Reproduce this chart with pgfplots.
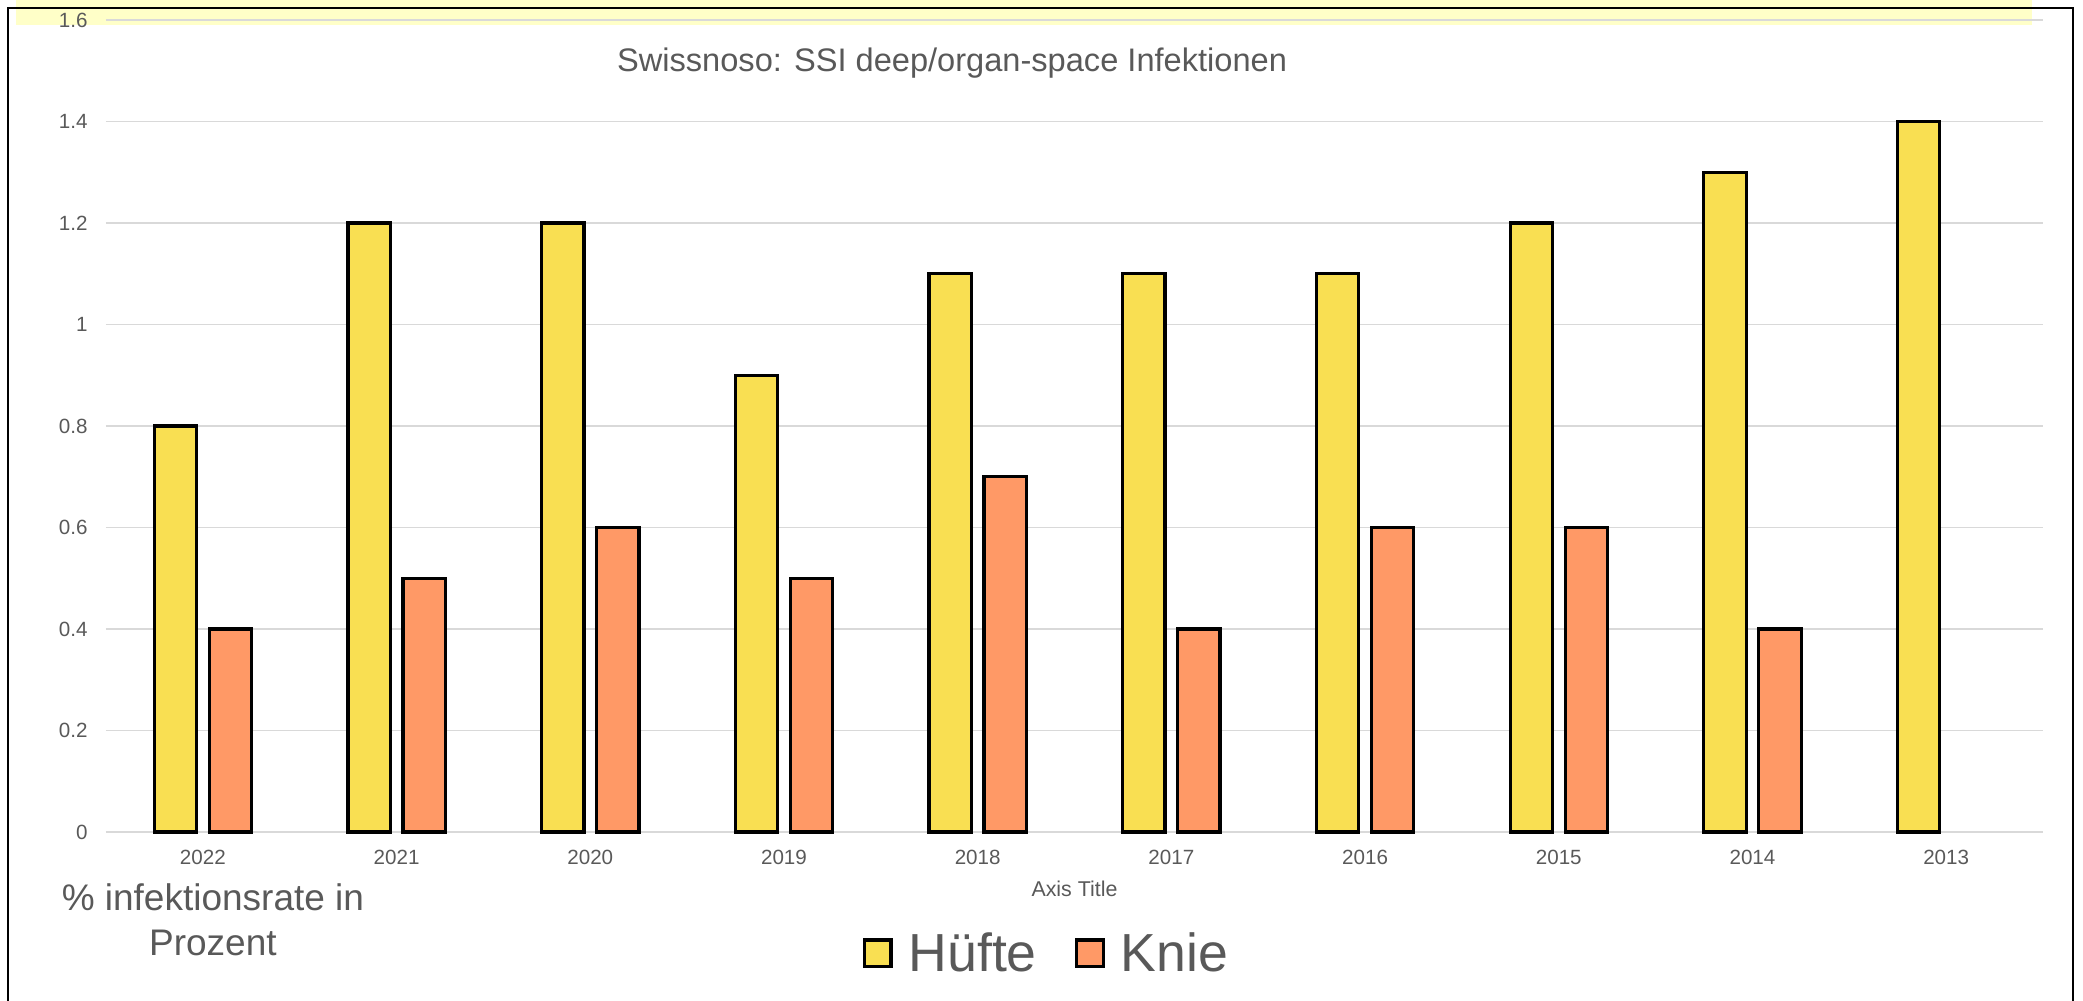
\documentclass[border=0pt]{standalone}
\usepackage{pgfplots}
\pgfplotsset{compat=1.18}
\usepackage{fontspec}
\setmainfont{Liberation Sans}
\definecolor{huefte}{HTML}{F9DF52}
\definecolor{knie}{HTML}{FF9966}
\definecolor{txt}{HTML}{595959}
\definecolor{gridc}{HTML}{D9D9D9}
\definecolor{band}{HTML}{FFFFC8}
\begin{document}
\begin{tikzpicture}
\useasboundingbox (0,0) rectangle (1041.5pt,500.5pt);
\fill[band] (8pt,488pt) rectangle (1016pt,500.5pt);
\draw[black, line width=1pt] (4pt,-5pt) -- (4pt,496.5pt) -- (1036.5pt,496.5pt) -- (1036.5pt,-5pt);
\begin{axis}[
  at={(53pt,84.5pt)}, anchor=south west,
  scale only axis, width=968.5pt, height=406pt,
  xmin=-0.5, xmax=9.5, ymin=0, ymax=1.6,
  xtick={0,1,2,3,4,5,6,7,8,9},
  xticklabels={2022,2021,2020,2019,2018,2017,2016,2015,2014,2013},
  ytick={0,0.2,0.4,0.6,0.8,1,1.2,1.4,1.6},
  ymajorgrids, grid style={draw=gridc, line width=0.75pt},
  axis line style={draw=none},
  major tick length=0pt,
  clip=false,
  ybar, bar width=21.15pt,
  tick label style={font=\fontsize{10.3}{12}\selectfont, text=txt},
  /pgf/number format/assume math mode=true,
  yticklabel style={anchor=east, inner sep=0pt, xshift=-9pt},
  xticklabel style={anchor=center, inner sep=0pt, yshift=-12.5pt},
  xlabel={Axis Title},
  xlabel style={font=\fontsize{10.7}{13}\selectfont, text=txt, at={(axis description cs:0.5,-0.0702)}, anchor=center},
  ylabel={\% infektionsrate in\\Prozent},
  ylabel style={font=\fontsize{18.5}{22.5}\selectfont, text=txt, rotate=-90, align=center, at={(axis description cs:0.0552,-0.1084)}, anchor=center},
  title={Swissnoso: SSI deep/organ-space Infektionen},
  title style={font=\fontsize{16.3}{19}\selectfont, text=txt, at={(axis description cs:0.4368,0.9323)}, anchor=center, yshift=0pt},
  legend image code/.code={\draw[#1, draw=black, line width=1.6pt] (0pt,-6.7pt) rectangle (13.4pt,6.7pt);},
  legend style={at={(axis description cs:0.3904,-0.1496)}, anchor=west, draw=none, fill=none,
    legend columns=2, font=\fontsize{26.8}{31}\selectfont, text=txt, inner sep=0pt,
    /tikz/every odd column/.append style={column sep=6pt},
    /tikz/every even column/.append style={column sep=17pt}},
]
\addplot[fill=huefte, draw=black, line width=1.6pt, bar shift=-13.75pt]
  coordinates {(0,0.8) (1,1.2) (2,1.2) (3,0.9) (4,1.1) (5,1.1) (6,1.1) (7,1.2) (8,1.3) (9,1.4)};
\addplot[fill=knie, draw=black, line width=1.6pt, bar shift=13.75pt]
  coordinates {(0,0.4) (1,0.5) (2,0.6) (3,0.5) (4,0.7) (5,0.4) (6,0.6) (7,0.6) (8,0.4)};
\legend{Hüfte, Knie}
\end{axis}
\end{tikzpicture}
\end{document}
